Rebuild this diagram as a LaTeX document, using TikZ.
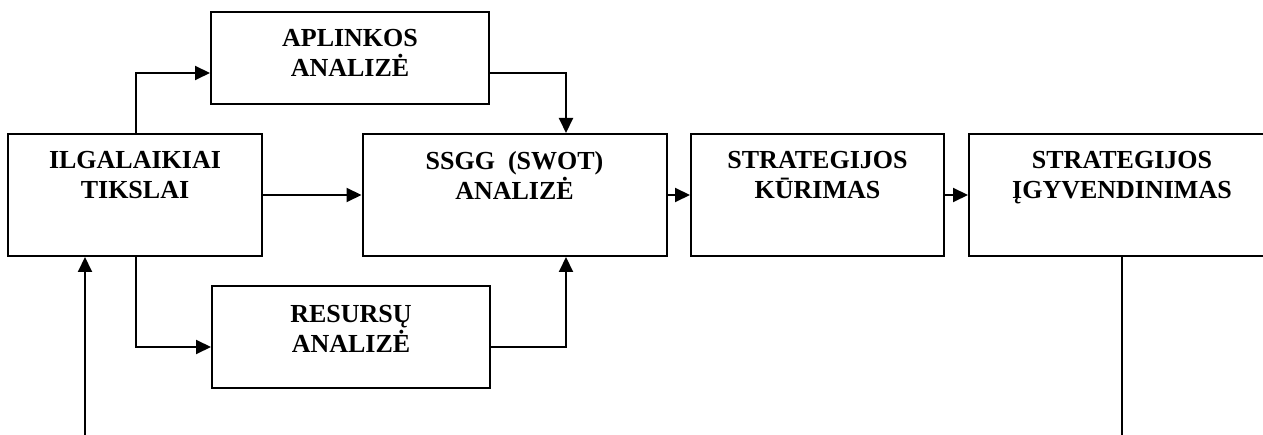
\documentclass[tikz,border=0pt]{standalone}
\usepackage{fontspec}
\setmainfont{Liberation Serif}
\usetikzlibrary{arrows.meta}
\begin{document}
\begin{tikzpicture}[x=1pt,y=-1pt,
  box/.style={draw=black,line width=2pt,rectangle,inner sep=0pt},
  lbl/.style={font=\bfseries\fontsize{26}{30}\selectfont,align=center,inner sep=0pt,anchor=north},
  conn/.style={line width=2pt},
  arr/.style={conn,-{Triangle[length=15pt,width=14pt]}}]
\useasboundingbox (0,0) rectangle (1263,435);
% boxes
\node[box,minimum width=254pt,minimum height=122pt] (ilg) at (135,195) {};
\node[box,minimum width=278pt,minimum height=92pt] (apl) at (350,58) {};
\node[box,minimum width=304pt,minimum height=122pt] (swot) at (514.5,195) {};
\node[box,minimum width=253pt,minimum height=122pt] (kur) at (817.5,195) {};
\node[box,minimum width=306pt,minimum height=122pt] (igy) at (1122,195) {};
\node[box,minimum width=278pt,minimum height=102pt] (res) at (351,337) {};
% labels
\node[lbl] (ilgT) at ([yshift=-18.4pt]ilg.north) {ILGALAIKIAI\\TIKSLAI};
\node[lbl] (aplT) at ([yshift=-18.4pt]apl.north) {APLINKOS\\ANALIZĖ};
\node[lbl] (swotT) at ([yshift=-18.4pt]swot.north) {SSGG\enspace(SWOT)\\ANALIZĖ};
\node[lbl] (kurT) at ([yshift=-18.4pt]kur.north) {STRATEGIJOS\\KŪRIMAS};
\node[lbl] (igyT) at ([yshift=-18.4pt]igy.north) {STRATEGIJOS\\ĮGYVENDINIMAS};
\node[lbl] (resT) at ([yshift=-19.9pt]res.north) {RESURSŲ\\ANALIZĖ};
% helper coordinates
\coordinate (t1) at (136,73);
\coordinate (t2) at (566,73);
\coordinate (t3) at (136,347);
\coordinate (t4) at (566,347);
\coordinate (s1) at (85,437);
\coordinate (e1) at (1122,437);
% connectors
\draw[arr] (ilg.north -| t1) |- (apl.west |- t1);
\draw[arr] (apl.east |- t2) -| (swot.north -| t2);
\draw[arr] (ilg.east) -- (swot.west);
\draw[arr] (ilg.south -| t3) |- (res.west |- t3);
\draw[arr] (res.east |- t4) -| (swot.south -| t4);
\draw[arr] (swot.east) -- (kur.west);
\draw[arr] (kur.east) -- (igy.west);
\draw[conn] (igy.south) -- (igy.south |- e1);
\draw[arr] (s1) -- (ilg.south -| s1);
\end{tikzpicture}
\end{document}
